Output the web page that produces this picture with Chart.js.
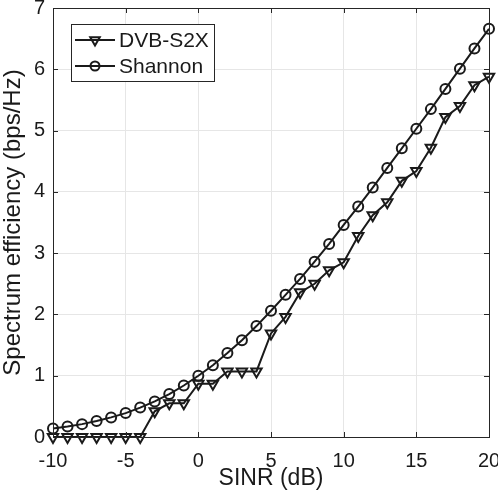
<!DOCTYPE html>
<html>
<head>
<meta charset="utf-8">
<script src="https://cdn.jsdelivr.net/npm/chart.js@4"></script>
<style>
  html, body { margin: 0; padding: 0; background: #fff; }
  #wrap { width: 498px; height: 497px; }
</style>
</head>
<body>
<div id="wrap"><canvas id="effChart" width="498" height="497"></canvas></div>
<script>
// SINR values (dB)
let sinr = [-10, -9, -8, -7, -6, -5, -4, -3, -2, -1, 0, 1, 2, 3, 4, 5, 6, 7, 8, 9, 10,
            11, 12, 13, 14, 15, 16, 17, 18, 19, 20];

// spectrum efficiency (bps/Hz)
let dvbS2x = [0, 0, 0, 0, 0, 0, 0, 0.42, 0.55, 0.55, 0.87, 0.87, 1.07, 1.07, 1.07,
              1.69, 1.96, 2.36, 2.5, 2.72, 2.85, 3.28, 3.62, 3.83, 4.18, 4.34, 4.72,
              5.22, 5.4, 5.74, 5.88];
let shannon = [0.14, 0.17, 0.21, 0.26, 0.32, 0.39, 0.48, 0.58, 0.70, 0.84, 1.0, 1.17,
               1.37, 1.58, 1.81, 2.06, 2.32, 2.58, 2.86, 3.15, 3.46, 3.76, 4.07, 4.39,
               4.71, 5.03, 5.35, 5.68, 6.01, 6.34, 6.66];

let xTicks = [-10, -5, 0, 5, 10, 15, 20];
let yTicks = [0, 1, 2, 3, 4, 5, 6, 7];
let seriesNames = ['DVB-S2X', 'Shannon'];

const ink = '#1a1a1a';
const fontFam = '"Liberation Sans", Arial, Helvetica, sans-serif';

function toPoints(ys) {
    return sinr.map((x, i) => ({ x: x, y: ys[i] }));
}

// box around the axes + inward tick marks, MATLAB style
const boxPlugin = {
    id: 'boxPlugin',
    afterDatasetsDraw(chart) {
        let ctx = chart.ctx;
        let a = chart.chartArea;
        let xs = chart.scales.x, ys = chart.scales.y;
        ctx.save();
        ctx.strokeStyle = '#262626';
        ctx.lineWidth = 1;
        ctx.beginPath();
        xTicks.forEach(t => {
            let px = Math.round(xs.getPixelForValue(t)) + 0.5;
            ctx.moveTo(px, a.bottom); ctx.lineTo(px, a.bottom - 5);
            ctx.moveTo(px, a.top); ctx.lineTo(px, a.top + 5);
        });
        yTicks.forEach(t => {
            let py = Math.round(ys.getPixelForValue(t)) + 0.5;
            ctx.moveTo(a.left, py); ctx.lineTo(a.left + 5, py);
            ctx.moveTo(a.right, py); ctx.lineTo(a.right - 5, py);
        });
        ctx.stroke();
        ctx.strokeRect(Math.round(a.left) + 0.5, Math.round(a.top) + 0.5,
                       Math.round(a.right - a.left), Math.round(a.bottom - a.top));
        ctx.restore();
    }
};

// legend box drawn in the upper-left of the plot
const legendPlugin = {
    id: 'legendBox',
    afterDraw(chart) {
        let ctx = chart.ctx;
        let bx = 71.5, by = 24.5, bw = 143, bh = 57;
        ctx.save();
        ctx.fillStyle = '#fff';
        ctx.fillRect(bx, by, bw, bh);
        ctx.strokeStyle = '#262626';
        ctx.lineWidth = 1;
        ctx.strokeRect(bx, by, bw, bh);
        let rows = [40, 66];
        let styles = [{ style: 'triangle', rot: 180, r: 5.5 }, { style: 'circle', rot: 0, r: 4.5 }];
        rows.forEach((ry, i) => {
            ctx.strokeStyle = ink;
            ctx.lineWidth = 2;
            ctx.beginPath();
            ctx.moveTo(75, ry); ctx.lineTo(115, ry);
            ctx.stroke();
            ctx.fillStyle = 'rgba(0,0,0,0)';
            Chart.helpers.drawPoint(ctx, {
                pointStyle: styles[i].style,
                rotation: styles[i].rot,
                radius: styles[i].r,
                borderWidth: 2
            }, 95, ry);
            ctx.fillStyle = ink;
            ctx.font = '21px ' + fontFam;
            ctx.textBaseline = 'middle';
            ctx.textAlign = 'left';
            ctx.fillText(seriesNames[i], 119, ry + 1);
        });
        ctx.restore();
    }
};

let ctx = document.getElementById('effChart').getContext('2d');
let effChart = new Chart(ctx, {
    type: 'line',
    data: {
        datasets: [{
            label: seriesNames[0],
            data: toPoints(dvbS2x),
            borderColor: ink,
            borderWidth: 2,
            backgroundColor: 'rgba(0,0,0,0)',
            pointStyle: 'triangle',
            rotation: 180,
            pointRadius: 6,
            pointBorderWidth: 2,
            pointBorderColor: ink,
            pointBackgroundColor: 'rgba(0,0,0,0)',
            tension: 0,
            clip: false
        }, {
            label: seriesNames[1],
            data: toPoints(shannon),
            borderColor: ink,
            borderWidth: 2,
            backgroundColor: 'rgba(0,0,0,0)',
            pointStyle: 'circle',
            pointRadius: 5,
            pointBorderWidth: 2,
            pointBorderColor: ink,
            pointBackgroundColor: 'rgba(0,0,0,0)',
            tension: 0,
            clip: false
        }]
    },
    options: {
        responsive: false,
        animation: false,
        events: [],
        layout: { autoPadding: false, padding: { top: 8, right: 9, left: 0, bottom: 0 } },
        plugins: { legend: { display: false }, tooltip: { enabled: false } },
        scales: {
            x: {
                type: 'linear',
                min: -10, max: 20,
                afterFit: s => { s.height = 60; s.paddingLeft = 0; s.paddingRight = 0; },
                afterBuildTicks: s => { s.ticks = xTicks.map(v => ({ value: v })); },
                grid: { color: '#e6e6e6', lineWidth: 1, drawTicks: false },
                border: { display: false },
                ticks: { color: ink, padding: 12, maxRotation: 0, font: { family: fontFam, size: 20 } },
                title: { display: true, text: 'SINR (dB)', color: ink,
                         font: { family: fontFam, size: 23, lineHeight: 1 }, padding: { top: 0, bottom: 7 } }
            },
            y: {
                type: 'linear',
                min: 0, max: 7,
                afterFit: s => { s.width = 53; s.paddingTop = 0; s.paddingBottom = 0; },
                afterBuildTicks: s => { s.ticks = yTicks.map(v => ({ value: v })); },
                grid: { color: '#e6e6e6', lineWidth: 1, drawTicks: false },
                border: { display: false },
                ticks: { color: ink, padding: 8, font: { family: fontFam, size: 20 } },
                title: { display: true, text: 'Spectrum efficiency (bps/Hz)', color: ink,
                         font: { family: fontFam, size: 24, lineHeight: 1 }, padding: { top: 1, bottom: 0 } }
            }
        }
    },
    plugins: [boxPlugin, legendPlugin]
});
</script>
</body>
</html>
